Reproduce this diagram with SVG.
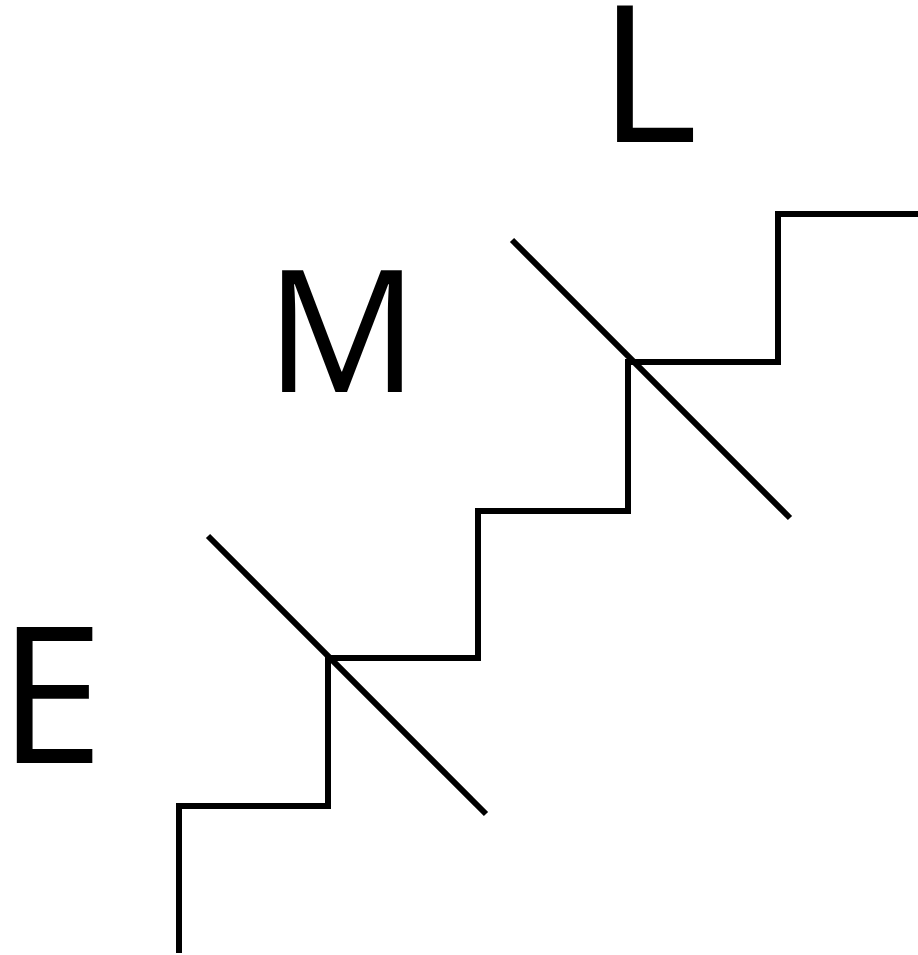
<svg xmlns="http://www.w3.org/2000/svg" width="918" height="955" viewBox="0 0 918 955">
<style>
.ln{stroke:#000;stroke-width:6;fill:none;stroke-linecap:butt}
.lb{font-family:"Open Sans","Liberation Sans",sans-serif;font-size:190px;font-weight:500;fill:#000;text-anchor:middle}
</style>
<rect width="918" height="955" fill="#fff"/>
<g id="connectors">
<polyline class="ln" points="179,953 179,806 328,806 328,658 478,658 478,511 628,511 628,362 778,362 778,214 918,214" stroke-linejoin="miter"/>
<line class="ln" x1="208" y1="536" x2="486" y2="814"/>
<line class="ln" x1="512" y1="240" x2="790" y2="518"/>
</g>
<g id="E"><text class="lb" x="51" y="763">E</text></g>
<g id="M"><text class="lb" x="342" y="392" style="font-size:170px">M</text></g>
<g id="L"><text class="lb" x="648" y="142">L</text></g>
</svg>
